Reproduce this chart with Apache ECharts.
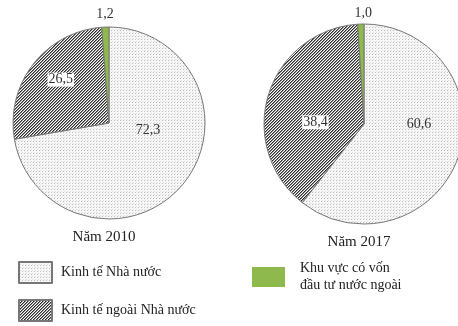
<!DOCTYPE html>
<html><head><meta charset="utf-8">
<script src="https://cdn.jsdelivr.net/npm/echarts@6/dist/echarts.min.js"></script>
<style>html,body{margin:0;padding:0;background:#fff}#c{width:458px;height:326px}</style>
</head><body><div id="c"></div>
<script>
const categories = ['Kinh tế Nhà nước', 'Kinh tế ngoài Nhà nước', 'Khu vực có vốn đầu tư nước ngoài'];
const values2010 = [72.3, 26.5, 1.2];
const values2017 = [60.6, 38.4, 1.0];
const years = ['Năm 2010', 'Năm 2017'];

function dotTile() {
  const c = document.createElement('canvas'); c.width = 3; c.height = 3;
  const g = c.getContext('2d');
  g.fillStyle = '#f7f7f7'; g.fillRect(0, 0, 3, 3);
  g.fillStyle = '#bdbdbd'; g.fillRect(0, 0, 1, 1);
  g.fillStyle = '#e0e0e0'; g.fillRect(1, 2, 1, 1);
  return c;
}
function hatchTile() {
  const c = document.createElement('canvas'); c.width = 3; c.height = 3;
  const g = c.getContext('2d');
  for (let x = 0; x < 3; x++) for (let y = 0; y < 3; y++) {
    const k = (x + y) % 3;
    g.fillStyle = k === 0 ? '#2e2e2e' : (k === 1 ? '#909090' : '#ffffff');
    g.fillRect(x, y, 1, 1);
  }
  return c;
}
const fills = [
  { image: dotTile(), repeat: 'repeat' },
  { image: hatchTile(), repeat: 'repeat' },
  '#8db94d'
];
const font = 'Liberation Serif';
const fmt = v => v.toFixed(1).replace('.', ',');

const offs2010 = [[0, -26], [-8, -12], [-2, -58]];
const offs2017 = [[5, -17], [2, 14], [1, -58]];

function buildData(vals, offs) {
  return vals.map((v, i) => ({
    name: categories[i], value: v,
    itemStyle: { color: fills[i] },
    label: {
      offset: offs[i],
      backgroundColor: i === 1 ? '#ffffff' : 'transparent',
      padding: i === 1 ? [0, 1] : 0
    }
  }));
}
function pie(center, r, vals, offs) {
  return {
    type: 'pie', center: center, radius: r, startAngle: 90, clockwise: true,
    avoidLabelOverlap: false, silent: true,
    itemStyle: { borderColor: '#777', borderWidth: 1 },
    label: { show: true, position: 'inside', formatter: p => fmt(p.value),
      fontFamily: font, fontSize: 14, color: '#333' },
    labelLine: { show: false },
    emphasis: { disabled: true },
    data: buildData(vals, offs)
  };
}
const legendBase = {
  orient: 'vertical', itemWidth: 33, itemHeight: 21, icon: 'rect',
  textStyle: { fontFamily: font, fontSize: 14, color: '#222', padding: [0, 0, 0, 4] },
  selectedMode: false
};
const chart = echarts.init(document.getElementById('c'));
chart.setOption({
  animation: false,
  backgroundColor: '#ffffff',
  legend: [
    Object.assign({}, legendBase, { data: [categories[0]], left: 13, top: 256 }),
    Object.assign({}, legendBase, { data: [categories[1]], left: 13, top: 294 }),
    Object.assign({}, legendBase, { data: [categories[2]], left: 247, top: 255, itemHeight: 20,
      itemStyle: { borderWidth: 0 },
      formatter: () => 'Khu vực có vốn\nđầu tư nước ngoài',
      textStyle: { fontFamily: font, fontSize: 14, color: '#222', lineHeight: 17, padding: [0, 0, 0, 10] } })
  ],
  graphic: [
    { type: 'text', x: 104, y: 237, style: { text: years[0], font: '15px "Liberation Serif"', fill: '#222', align: 'center', verticalAlign: 'middle' } },
    { type: 'text', x: 359, y: 242, style: { text: years[1], font: '15px "Liberation Serif"', fill: '#222', align: 'center', verticalAlign: 'middle' } }
  ],
  series: [
    pie([109, 123], 96, values2010, offs2010),
    pie([364, 124], 100, values2017, offs2017)
  ]
});
</script></body></html>
